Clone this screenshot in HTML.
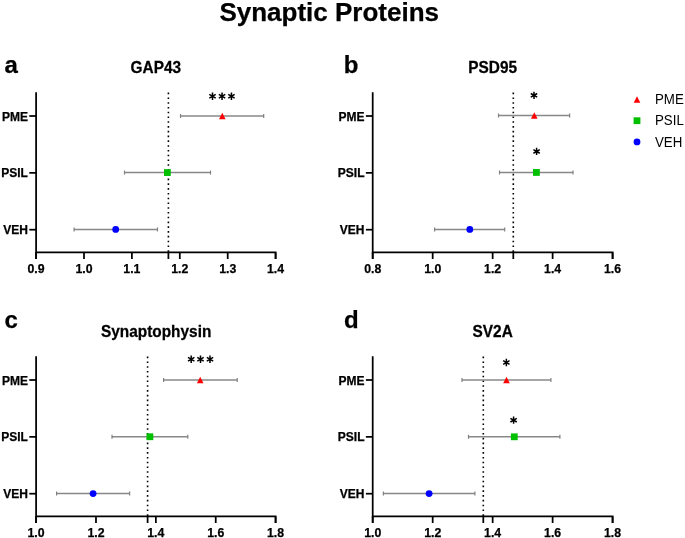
<!DOCTYPE html>
<html><head><meta charset="utf-8"><style>
html,body{margin:0;padding:0;background:#fff;}
body{width:685px;height:538px;overflow:hidden;}
svg{display:block;font-family:"Liberation Sans", sans-serif;will-change:transform;}
text[font-weight=bold]{stroke:#000;stroke-width:0.25px;}
</style></head><body>
<svg width="685" height="538" viewBox="0 0 685 538">
<rect width="685" height="538" fill="#fff"/>
<text transform="translate(329.2,20.5) scale(1,1.0)" font-size="26" font-weight="bold" text-anchor="middle">Synaptic Proteins</text>
<text x="4.4" y="72.7" font-size="24" font-weight="bold">a</text>
<text transform="translate(155.85,73.0) scale(1,1.08)" font-size="15.4" font-weight="bold" text-anchor="middle">GAP43</text>
<line x1="168.4" y1="92.60000000000001" x2="168.4" y2="248.8" stroke="#000" stroke-width="1.6" stroke-dasharray="1.6 3.175"/>
<line x1="168.4" y1="250.3" x2="168.4" y2="259.0" stroke="#000" stroke-width="1.75"/>
<path d="M36.1,92.2 V252.3 H275.6 V259.0" fill="none" stroke="#000" stroke-width="1.75"/>
<line x1="36.1" y1="252.3" x2="36.1" y2="259.0" stroke="#000" stroke-width="1.75"/>
<line x1="36.10" y1="252.3" x2="36.10" y2="259.0" stroke="#000" stroke-width="1.75"/>
<text x="36.10" y="272.7" font-size="12.3" font-weight="bold" text-anchor="middle">0.9</text>
<line x1="84.00" y1="252.3" x2="84.00" y2="259.0" stroke="#000" stroke-width="1.75"/>
<text x="84.00" y="272.7" font-size="12.3" font-weight="bold" text-anchor="middle">1.0</text>
<line x1="131.90" y1="252.3" x2="131.90" y2="259.0" stroke="#000" stroke-width="1.75"/>
<text x="131.90" y="272.7" font-size="12.3" font-weight="bold" text-anchor="middle">1.1</text>
<line x1="179.80" y1="252.3" x2="179.80" y2="259.0" stroke="#000" stroke-width="1.75"/>
<text x="179.80" y="272.7" font-size="12.3" font-weight="bold" text-anchor="middle">1.2</text>
<line x1="227.70" y1="252.3" x2="227.70" y2="259.0" stroke="#000" stroke-width="1.75"/>
<text x="227.70" y="272.7" font-size="12.3" font-weight="bold" text-anchor="middle">1.3</text>
<line x1="275.60" y1="252.3" x2="275.60" y2="259.0" stroke="#000" stroke-width="1.75"/>
<text x="275.60" y="272.7" font-size="12.3" font-weight="bold" text-anchor="middle">1.4</text>
<line x1="29.3" y1="116.0" x2="36.1" y2="116.0" stroke="#000" stroke-width="1.75"/>
<text x="27.900000000000002" y="120.5" font-size="12" font-weight="bold" text-anchor="end">PME</text>
<line x1="180.5" y1="115.95" x2="263.7" y2="115.95" stroke="#888888" stroke-width="1.5"/>
<line x1="180.5" y1="113.95" x2="180.5" y2="117.95" stroke="#808080" stroke-width="1.2"/>
<line x1="263.7" y1="113.95" x2="263.7" y2="117.95" stroke="#808080" stroke-width="1.2"/>
<polygon points="219.00,119.15 225.60,119.15 222.30,112.75" fill="#ff0000"/>
<line x1="29.3" y1="172.85" x2="36.1" y2="172.85" stroke="#000" stroke-width="1.75"/>
<text x="27.900000000000002" y="177.35" font-size="12" font-weight="bold" text-anchor="end">PSIL</text>
<line x1="124.5" y1="172.55" x2="210.5" y2="172.55" stroke="#888888" stroke-width="1.5"/>
<line x1="124.5" y1="170.55" x2="124.5" y2="174.55" stroke="#808080" stroke-width="1.2"/>
<line x1="210.5" y1="170.55" x2="210.5" y2="174.55" stroke="#808080" stroke-width="1.2"/>
<rect x="164.00" y="169.15" width="6.80" height="6.80" fill="#00c000"/>
<line x1="29.3" y1="229.7" x2="36.1" y2="229.7" stroke="#000" stroke-width="1.75"/>
<text x="27.900000000000002" y="234.2" font-size="12" font-weight="bold" text-anchor="end">VEH</text>
<line x1="74.1" y1="229.45" x2="157.5" y2="229.45" stroke="#888888" stroke-width="1.5"/>
<line x1="74.1" y1="227.45" x2="74.1" y2="231.45" stroke="#808080" stroke-width="1.2"/>
<line x1="157.5" y1="227.45" x2="157.5" y2="231.45" stroke="#808080" stroke-width="1.2"/>
<circle cx="115.70" cy="229.45" r="3.40" fill="#0000ff"/>
<path d="M212.50,99.90L212.50,92.50M209.30,98.05L215.70,94.35M215.70,98.05L209.30,94.35" stroke="#000" stroke-width="1.5" fill="none"/>
<path d="M222.05,99.90L222.05,92.50M218.85,98.05L225.25,94.35M225.25,98.05L218.85,94.35" stroke="#000" stroke-width="1.5" fill="none"/>
<path d="M231.45,99.90L231.45,92.50M228.25,98.05L234.65,94.35M234.65,98.05L228.25,94.35" stroke="#000" stroke-width="1.5" fill="none"/>
<text x="343.8" y="72.7" font-size="24" font-weight="bold">b</text>
<text transform="translate(492.65,72.6) scale(1,1.08)" font-size="15.4" font-weight="bold" text-anchor="middle">PSD95</text>
<line x1="513.3" y1="92.60000000000001" x2="513.3" y2="248.8" stroke="#000" stroke-width="1.6" stroke-dasharray="1.6 3.175"/>
<line x1="513.3" y1="250.3" x2="513.3" y2="259.0" stroke="#000" stroke-width="1.75"/>
<path d="M372.7,92.2 V252.3 H612.6 V259.0" fill="none" stroke="#000" stroke-width="1.75"/>
<line x1="372.7" y1="252.3" x2="372.7" y2="259.0" stroke="#000" stroke-width="1.75"/>
<line x1="372.70" y1="252.3" x2="372.70" y2="259.0" stroke="#000" stroke-width="1.75"/>
<text x="372.70" y="272.7" font-size="12.3" font-weight="bold" text-anchor="middle">0.8</text>
<line x1="432.68" y1="252.3" x2="432.68" y2="259.0" stroke="#000" stroke-width="1.75"/>
<text x="432.68" y="272.7" font-size="12.3" font-weight="bold" text-anchor="middle">1.0</text>
<line x1="492.65" y1="252.3" x2="492.65" y2="259.0" stroke="#000" stroke-width="1.75"/>
<text x="492.65" y="272.7" font-size="12.3" font-weight="bold" text-anchor="middle">1.2</text>
<line x1="552.62" y1="252.3" x2="552.62" y2="259.0" stroke="#000" stroke-width="1.75"/>
<text x="552.62" y="272.7" font-size="12.3" font-weight="bold" text-anchor="middle">1.4</text>
<line x1="612.60" y1="252.3" x2="612.60" y2="259.0" stroke="#000" stroke-width="1.75"/>
<text x="612.60" y="272.7" font-size="12.3" font-weight="bold" text-anchor="middle">1.6</text>
<line x1="365.9" y1="116.0" x2="372.7" y2="116.0" stroke="#000" stroke-width="1.75"/>
<text x="364.5" y="120.5" font-size="12" font-weight="bold" text-anchor="end">PME</text>
<line x1="498.5" y1="115.5" x2="569.6" y2="115.5" stroke="#888888" stroke-width="1.5"/>
<line x1="498.5" y1="113.5" x2="498.5" y2="117.5" stroke="#808080" stroke-width="1.2"/>
<line x1="569.6" y1="113.5" x2="569.6" y2="117.5" stroke="#808080" stroke-width="1.2"/>
<polygon points="531.00,118.70 537.60,118.70 534.30,112.30" fill="#ff0000"/>
<line x1="365.9" y1="172.85" x2="372.7" y2="172.85" stroke="#000" stroke-width="1.75"/>
<text x="364.5" y="177.35" font-size="12" font-weight="bold" text-anchor="end">PSIL</text>
<line x1="499.5" y1="172.45" x2="573.0" y2="172.45" stroke="#888888" stroke-width="1.5"/>
<line x1="499.5" y1="170.45" x2="499.5" y2="174.45" stroke="#808080" stroke-width="1.2"/>
<line x1="573.0" y1="170.45" x2="573.0" y2="174.45" stroke="#808080" stroke-width="1.2"/>
<rect x="533.00" y="169.05" width="6.80" height="6.80" fill="#00c000"/>
<line x1="365.9" y1="229.7" x2="372.7" y2="229.7" stroke="#000" stroke-width="1.75"/>
<text x="364.5" y="234.2" font-size="12" font-weight="bold" text-anchor="end">VEH</text>
<line x1="434.6" y1="229.45" x2="504.7" y2="229.45" stroke="#888888" stroke-width="1.5"/>
<line x1="434.6" y1="227.45" x2="434.6" y2="231.45" stroke="#808080" stroke-width="1.2"/>
<line x1="504.7" y1="227.45" x2="504.7" y2="231.45" stroke="#808080" stroke-width="1.2"/>
<circle cx="469.80" cy="229.45" r="3.40" fill="#0000ff"/>
<path d="M534.00,99.05L534.00,91.65M530.80,97.20L537.20,93.50M537.20,97.20L530.80,93.50" stroke="#000" stroke-width="1.5" fill="none"/>
<path d="M536.60,155.10L536.60,147.70M533.40,153.25L539.80,149.55M539.80,153.25L533.40,149.55" stroke="#000" stroke-width="1.5" fill="none"/>
<text x="4.4" y="328.3" font-size="24" font-weight="bold">c</text>
<text transform="translate(156.15,337.2) scale(1,1.08)" font-size="15.4" font-weight="bold" text-anchor="middle">Synaptophysin</text>
<line x1="147.6" y1="356.59999999999997" x2="147.6" y2="512.8" stroke="#000" stroke-width="1.6" stroke-dasharray="1.6 3.175"/>
<line x1="147.6" y1="514.3" x2="147.6" y2="523.0" stroke="#000" stroke-width="1.75"/>
<path d="M36.1,356.2 V516.3 H275.6 V523.0" fill="none" stroke="#000" stroke-width="1.75"/>
<line x1="36.1" y1="516.3" x2="36.1" y2="523.0" stroke="#000" stroke-width="1.75"/>
<line x1="36.10" y1="516.3" x2="36.10" y2="523.0" stroke="#000" stroke-width="1.75"/>
<text x="36.10" y="536.7" font-size="12.3" font-weight="bold" text-anchor="middle">1.0</text>
<line x1="95.98" y1="516.3" x2="95.98" y2="523.0" stroke="#000" stroke-width="1.75"/>
<text x="95.98" y="536.7" font-size="12.3" font-weight="bold" text-anchor="middle">1.2</text>
<line x1="155.85" y1="516.3" x2="155.85" y2="523.0" stroke="#000" stroke-width="1.75"/>
<text x="155.85" y="536.7" font-size="12.3" font-weight="bold" text-anchor="middle">1.4</text>
<line x1="215.73" y1="516.3" x2="215.73" y2="523.0" stroke="#000" stroke-width="1.75"/>
<text x="215.73" y="536.7" font-size="12.3" font-weight="bold" text-anchor="middle">1.6</text>
<line x1="275.60" y1="516.3" x2="275.60" y2="523.0" stroke="#000" stroke-width="1.75"/>
<text x="275.60" y="536.7" font-size="12.3" font-weight="bold" text-anchor="middle">1.8</text>
<line x1="29.3" y1="380.0" x2="36.1" y2="380.0" stroke="#000" stroke-width="1.75"/>
<text x="27.900000000000002" y="384.5" font-size="12" font-weight="bold" text-anchor="end">PME</text>
<line x1="163.6" y1="380.0" x2="237.2" y2="380.0" stroke="#888888" stroke-width="1.5"/>
<line x1="163.6" y1="378.0" x2="163.6" y2="382.0" stroke="#808080" stroke-width="1.2"/>
<line x1="237.2" y1="378.0" x2="237.2" y2="382.0" stroke="#808080" stroke-width="1.2"/>
<polygon points="196.90,383.20 203.50,383.20 200.20,376.80" fill="#ff0000"/>
<line x1="29.3" y1="436.85" x2="36.1" y2="436.85" stroke="#000" stroke-width="1.75"/>
<text x="27.900000000000002" y="441.35" font-size="12" font-weight="bold" text-anchor="end">PSIL</text>
<line x1="112.0" y1="436.75" x2="187.8" y2="436.75" stroke="#888888" stroke-width="1.5"/>
<line x1="112.0" y1="434.75" x2="112.0" y2="438.75" stroke="#808080" stroke-width="1.2"/>
<line x1="187.8" y1="434.75" x2="187.8" y2="438.75" stroke="#808080" stroke-width="1.2"/>
<rect x="146.50" y="433.35" width="6.80" height="6.80" fill="#00c000"/>
<line x1="29.3" y1="493.7" x2="36.1" y2="493.7" stroke="#000" stroke-width="1.75"/>
<text x="27.900000000000002" y="498.2" font-size="12" font-weight="bold" text-anchor="end">VEH</text>
<line x1="56.6" y1="493.6" x2="129.6" y2="493.6" stroke="#888888" stroke-width="1.5"/>
<line x1="56.6" y1="491.6" x2="56.6" y2="495.6" stroke="#808080" stroke-width="1.2"/>
<line x1="129.6" y1="491.6" x2="129.6" y2="495.6" stroke="#808080" stroke-width="1.2"/>
<circle cx="93.10" cy="493.60" r="3.40" fill="#0000ff"/>
<path d="M191.20,362.90L191.20,355.50M188.00,361.05L194.40,357.35M194.40,361.05L188.00,357.35" stroke="#000" stroke-width="1.5" fill="none"/>
<path d="M200.50,362.90L200.50,355.50M197.30,361.05L203.70,357.35M203.70,361.05L197.30,357.35" stroke="#000" stroke-width="1.5" fill="none"/>
<path d="M210.00,362.90L210.00,355.50M206.80,361.05L213.20,357.35M213.20,361.05L206.80,357.35" stroke="#000" stroke-width="1.5" fill="none"/>
<text x="343.9" y="328.1" font-size="24" font-weight="bold">d</text>
<text transform="translate(492.65,337.1) scale(1,1.08)" font-size="15.4" font-weight="bold" text-anchor="middle">SV2A</text>
<line x1="483.3" y1="356.59999999999997" x2="483.3" y2="512.8" stroke="#000" stroke-width="1.6" stroke-dasharray="1.6 3.175"/>
<line x1="483.3" y1="514.3" x2="483.3" y2="523.0" stroke="#000" stroke-width="1.75"/>
<path d="M372.7,356.2 V516.3 H612.6 V523.0" fill="none" stroke="#000" stroke-width="1.75"/>
<line x1="372.7" y1="516.3" x2="372.7" y2="523.0" stroke="#000" stroke-width="1.75"/>
<line x1="372.70" y1="516.3" x2="372.70" y2="523.0" stroke="#000" stroke-width="1.75"/>
<text x="372.70" y="536.7" font-size="12.3" font-weight="bold" text-anchor="middle">1.0</text>
<line x1="432.68" y1="516.3" x2="432.68" y2="523.0" stroke="#000" stroke-width="1.75"/>
<text x="432.68" y="536.7" font-size="12.3" font-weight="bold" text-anchor="middle">1.2</text>
<line x1="492.65" y1="516.3" x2="492.65" y2="523.0" stroke="#000" stroke-width="1.75"/>
<text x="492.65" y="536.7" font-size="12.3" font-weight="bold" text-anchor="middle">1.4</text>
<line x1="552.62" y1="516.3" x2="552.62" y2="523.0" stroke="#000" stroke-width="1.75"/>
<text x="552.62" y="536.7" font-size="12.3" font-weight="bold" text-anchor="middle">1.6</text>
<line x1="612.60" y1="516.3" x2="612.60" y2="523.0" stroke="#000" stroke-width="1.75"/>
<text x="612.60" y="536.7" font-size="12.3" font-weight="bold" text-anchor="middle">1.8</text>
<line x1="365.9" y1="380.0" x2="372.7" y2="380.0" stroke="#000" stroke-width="1.75"/>
<text x="364.5" y="384.5" font-size="12" font-weight="bold" text-anchor="end">PME</text>
<line x1="462.0" y1="380.0" x2="550.9" y2="380.0" stroke="#888888" stroke-width="1.5"/>
<line x1="462.0" y1="378.0" x2="462.0" y2="382.0" stroke="#808080" stroke-width="1.2"/>
<line x1="550.9" y1="378.0" x2="550.9" y2="382.0" stroke="#808080" stroke-width="1.2"/>
<polygon points="503.20,383.20 509.80,383.20 506.50,376.80" fill="#ff0000"/>
<line x1="365.9" y1="436.85" x2="372.7" y2="436.85" stroke="#000" stroke-width="1.75"/>
<text x="364.5" y="441.35" font-size="12" font-weight="bold" text-anchor="end">PSIL</text>
<line x1="468.5" y1="436.8" x2="559.9" y2="436.8" stroke="#888888" stroke-width="1.5"/>
<line x1="468.5" y1="434.8" x2="468.5" y2="438.8" stroke="#808080" stroke-width="1.2"/>
<line x1="559.9" y1="434.8" x2="559.9" y2="438.8" stroke="#808080" stroke-width="1.2"/>
<rect x="510.90" y="433.40" width="6.80" height="6.80" fill="#00c000"/>
<line x1="365.9" y1="493.7" x2="372.7" y2="493.7" stroke="#000" stroke-width="1.75"/>
<text x="364.5" y="498.2" font-size="12" font-weight="bold" text-anchor="end">VEH</text>
<line x1="383.4" y1="493.6" x2="474.9" y2="493.6" stroke="#888888" stroke-width="1.5"/>
<line x1="383.4" y1="491.6" x2="383.4" y2="495.6" stroke="#808080" stroke-width="1.2"/>
<line x1="474.9" y1="491.6" x2="474.9" y2="495.6" stroke="#808080" stroke-width="1.2"/>
<circle cx="429.10" cy="493.60" r="3.40" fill="#0000ff"/>
<path d="M506.35,366.15L506.35,358.75M503.15,364.30L509.55,360.60M509.55,364.30L503.15,360.60" stroke="#000" stroke-width="1.5" fill="none"/>
<path d="M513.60,423.85L513.60,416.45M510.40,422.00L516.80,418.30M516.80,422.00L510.40,418.30" stroke="#000" stroke-width="1.5" fill="none"/>
<polygon points="633.70,102.70 640.30,102.70 637.00,96.30" fill="#ff0000"/>
<text transform="translate(655.0,103.60) scale(1,1.07)" font-size="13.3">PME</text>
<rect x="633.60" y="117.30" width="6.80" height="6.80" fill="#00c000"/>
<text transform="translate(655.0,125.05) scale(1,1.07)" font-size="13.3">PSIL</text>
<circle cx="637.00" cy="141.90" r="3.40" fill="#0000ff"/>
<text transform="translate(655.0,146.50) scale(1,1.07)" font-size="13.3">VEH</text>
</svg>
</body></html>
